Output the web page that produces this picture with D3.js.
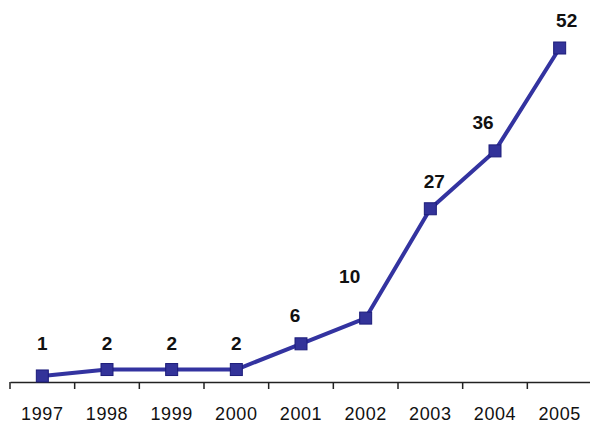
<!DOCTYPE html>
<html>
<head>
<meta charset="utf-8">
<script src="https://cdn.jsdelivr.net/npm/d3@7"></script>
<style>
  body { margin: 0; background: #fff; }
  svg { display: block; }
</style>
</head>
<body>
<div id="chart"></div>
<script>
// data
var years  = ["1997", "1998", "1999", "2000", "2001", "2002", "2003", "2004", "2005"];
var counts = [1, 2, 2, 2, 6, 10, 27, 36, 52];

// small nudges of the value labels, like the hand placed labels in the original
var labelDx = [0, 0, 0, 0, -6, -16, 4, -12, 7];
var labelDy = [-4, 2, 2, 2, 0, -13, 1, 0, 1];

var width = 590, height = 423;
var margin = {top: 48, right: -2, bottom: 41, left: 10};

var x = d3.scaleBand()
    .domain(years)
    .range([margin.left, width - margin.right]);

var y = d3.scaleLinear()
    .domain([0, 52])
    .range([height - margin.bottom + 0.4, margin.top]);

var svg = d3.select("#chart").append("svg")
    .attr("width", width)
    .attr("height", height);

var cx = function(d, i) { return x(years[i]) + x.bandwidth() / 2; };

// x axis
var axis = svg.append("g")
    .attr("transform", "translate(0," + (height - margin.bottom) + ")")
    .call(d3.axisBottom(x).tickSize(0).tickPadding(25).tickSizeOuter(0));
axis.select(".domain").attr("stroke", "#222").attr("stroke-width", 1.5);
axis.selectAll("text")
    .attr("font-family", "Liberation Sans, Arial, sans-serif")
    .attr("font-size", 18)
    .attr("letter-spacing", 0.6)
    .attr("fill", "#111");

// tick marks between the categories
var bounds = years.map(function(d) { return x(d); });
axis.selectAll("line.sep")
    .data(bounds)
  .enter().append("line")
    .attr("class", "sep")
    .attr("x1", function(d) { return d; })
    .attr("x2", function(d) { return d; })
    .attr("y1", 0)
    .attr("y2", 7)
    .attr("stroke", "#222")
    .attr("stroke-width", 1.5);

// line
var line = d3.line()
    .x(cx)
    .y(function(d) { return y(d); });

svg.append("path")
    .datum(counts)
    .attr("d", line)
    .attr("fill", "none")
    .attr("stroke", "#3333a0")
    .attr("stroke-width", 4)
    .attr("stroke-linejoin", "round");

// square markers
svg.selectAll("rect.mark")
    .data(counts)
  .enter().append("rect")
    .attr("class", "mark")
    .attr("x", function(d, i) { return cx(d, i) - 6; })
    .attr("y", function(d) { return y(d) - 6; })
    .attr("width", 12)
    .attr("height", 12)
    .attr("fill", "#333399")
    .attr("stroke", "#1c1c7a")
    .attr("stroke-width", 1);

// value labels
svg.selectAll("text.val")
    .data(counts)
  .enter().append("text")
    .attr("class", "val")
    .attr("x", function(d, i) { return cx(d, i) + labelDx[i]; })
    .attr("y", function(d, i) { return y(d) - 22 + labelDy[i]; })
    .attr("text-anchor", "middle")
    .attr("font-family", "Liberation Sans, Arial, sans-serif")
    .attr("font-weight", "bold")
    .attr("font-size", 19)
    .attr("fill", "#111")
    .text(function(d) { return d; });
</script>
</body>
</html>
